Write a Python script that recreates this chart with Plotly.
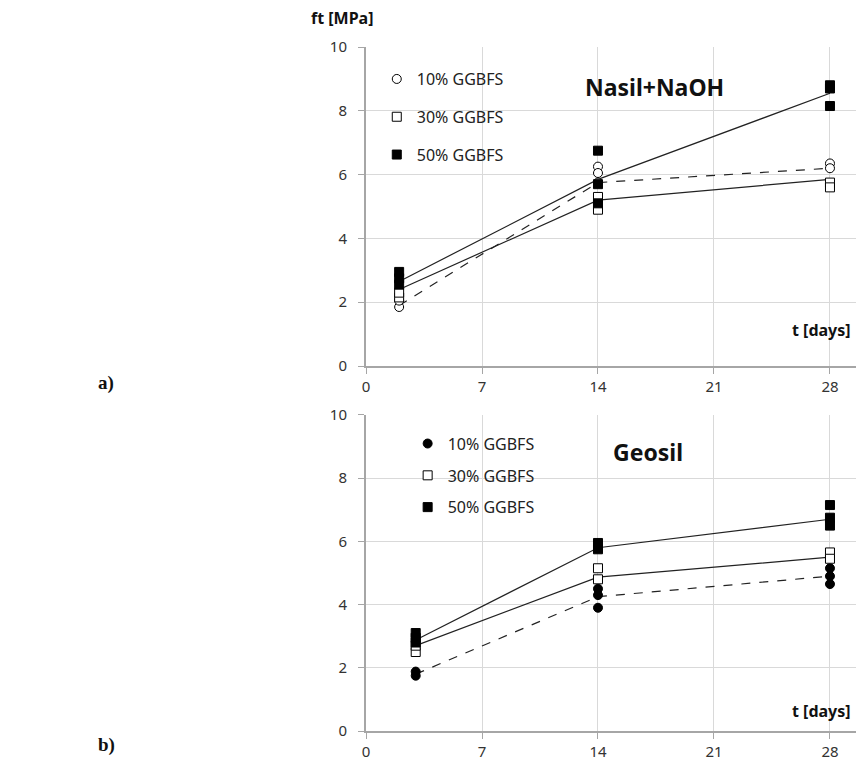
import plotly.graph_objects as go

# ---------------- data ----------------
top_days = [2, 14, 28]
bottom_days = [3, 14, 28]

series_names = ["10% GGBFS", "30% GGBFS", "50% GGBFS"]

# panel a) Nasil+NaOH : individual specimens per age
top_10_pts = [[1.85, 2.05], [6.25, 6.05, 5.75], [6.35, 6.2]]
top_30_pts = [[2.15, 2.3], [5.3, 5.05, 4.9], [5.75, 5.6]]
top_50_pts = [[2.95, 2.75, 2.55], [6.75, 5.7, 5.1], [8.8, 8.7, 8.15]]
# mean lines
top_10_mean = [1.9, 5.75, 6.2]
top_30_mean = [2.4, 5.2, 5.85]
top_50_mean = [2.65, 5.85, 8.55]

# panel b) Geosil
bot_10_pts = [[1.88, 1.75], [4.5, 4.3, 3.9], [5.15, 4.9, 4.65]]
bot_30_pts = [[2.5, 2.7], [5.15, 4.8], [5.65, 5.45]]
bot_50_pts = [[3.1, 2.95, 2.8], [5.95, 5.75], [7.15, 6.75, 6.5]]
bot_10_mean = [1.8, 4.25, 4.9]
bot_30_mean = [2.7, 4.87, 5.5]
bot_50_mean = [2.88, 5.8, 6.7]

x_ticks = [0, 7, 14, 21, 28]
y_ticks = [0, 2, 4, 6, 8, 10]


def expand(days, pts):
    xs, ys = [], []
    for d, vals in zip(days, pts):
        for v in vals:
            xs.append(d)
            ys.append(v)
    return xs, ys


fig = go.Figure()

FONT = "Noto Sans"

def add_panel(days, pts_list, means, markers, xa, ya, legend):
    dashes = ["dash", "solid", "solid"]
    for m, dsh in zip(means, dashes):
        fig.add_trace(go.Scatter(x=days, y=m, mode="lines",
                                 line=dict(color="#222", width=1.2, dash=dsh),
                                 showlegend=False, xaxis=xa, yaxis=ya,
                                 hoverinfo="skip"))
    for i, (pts, (sym, fill)) in enumerate(zip(pts_list, markers)):
        xs, ys = expand(days, pts)
        fig.add_trace(go.Scatter(x=xs, y=ys, mode="markers", name=series_names[i],
                                 marker=dict(symbol=sym, size=9, color=fill,
                                             line=dict(color="black", width=1)),
                                 xaxis=xa, yaxis=ya, legend=legend,
                                 legendgroup=f"{legend}{i}"))


add_panel(top_days, [top_10_pts, top_30_pts, top_50_pts],
          [top_10_mean, top_30_mean, top_50_mean],
          [("circle", "white"), ("square", "white"), ("square", "black")],
          "x", "y", "legend")
add_panel(bottom_days, [bot_10_pts, bot_30_pts, bot_50_pts],
          [bot_10_mean, bot_30_mean, bot_50_mean],
          [("circle", "black"), ("square", "white"), ("square", "black")],
          "x2", "y2", "legend2")

axis_common = dict(
    showgrid=True, gridcolor="#d9d9d9", gridwidth=1,
    showline=True, linecolor="#a6a6a6", linewidth=2,
    ticks="outside", tickcolor="#a6a6a6", ticklen=6, tickwidth=1,
    tickfont=dict(family=FONT, size=15, color="#333"),
    zeroline=False, fixedrange=True,
)

xr = [0, 29.57]
fig.update_layout(
    width=856, height=760,
    margin=dict(l=366, r=0, t=47, b=29),
    paper_bgcolor="white", plot_bgcolor="white",
    font=dict(family=FONT, color="#222"),
    xaxis=dict(axis_common, domain=[0, 1], range=xr, tickvals=x_ticks, anchor="y",
               ticklabelstandoff=0),
    yaxis=dict(axis_common, domain=[0.5336, 1], range=[0, 10], tickvals=y_ticks, anchor="x",
               ticklabelstandoff=8),
    xaxis2=dict(axis_common, domain=[0, 1], range=xr, tickvals=x_ticks, anchor="y2",
                ticklabelstandoff=0),
    yaxis2=dict(axis_common, domain=[0, 0.462], range=[0, 10], tickvals=y_ticks, anchor="x2",
                ticklabelstandoff=8),
    legend=dict(x=0.022, y=0.978, xanchor="left", yanchor="top", bgcolor="rgba(0,0,0,0)",
                font=dict(family=FONT, size=16, color="#222"), tracegroupgap=14,
                traceorder="grouped"),
    legend2=dict(x=0.085, y=0.445, xanchor="left", yanchor="top", bgcolor="rgba(0,0,0,0)",
                 font=dict(family=FONT, size=16, color="#222"), tracegroupgap=8,
                 traceorder="grouped"),
    showlegend=True,
)

annots = [
    dict(text="<b>ft [MPa]</b>", x=309, y=18, xanchor="left", yanchor="middle", size=16, fam=FONT),
    dict(text="<b>Nasil+NaOH</b>", x=654, y=87, xanchor="center", yanchor="middle", size=23, fam=FONT),
    dict(text="<b>Geosil</b>", x=648, y=452, xanchor="center", yanchor="middle", size=23, fam=FONT),
    dict(text="<b>t [days]</b>", x=853, y=330, xanchor="right", yanchor="middle", size=16, fam=FONT),
    dict(text="<b>t [days]</b>", x=853, y=711, xanchor="right", yanchor="middle", size=16, fam=FONT),
    dict(text="<b>a)</b>", x=96, y=383, xanchor="left", yanchor="middle", size=19, fam="Liberation Serif"),
    dict(text="<b>b)</b>", x=96, y=745, xanchor="left", yanchor="middle", size=19, fam="Liberation Serif"),
]
for a in annots:
    fig.add_annotation(text=a["text"], xref="paper", yref="paper",
                       x=(a["x"] - 366) / 490, y=(760 - 29 - a["y"]) / 684,
                       xanchor=a["xanchor"], yanchor=a["yanchor"], showarrow=False,
                       font=dict(family=a["fam"], size=a["size"], color="#111"))

fig.write_html("out.html", config={"displayModeBar": False},
               post_script="document.body.style.margin='0';document.body.style.overflow='hidden';")
